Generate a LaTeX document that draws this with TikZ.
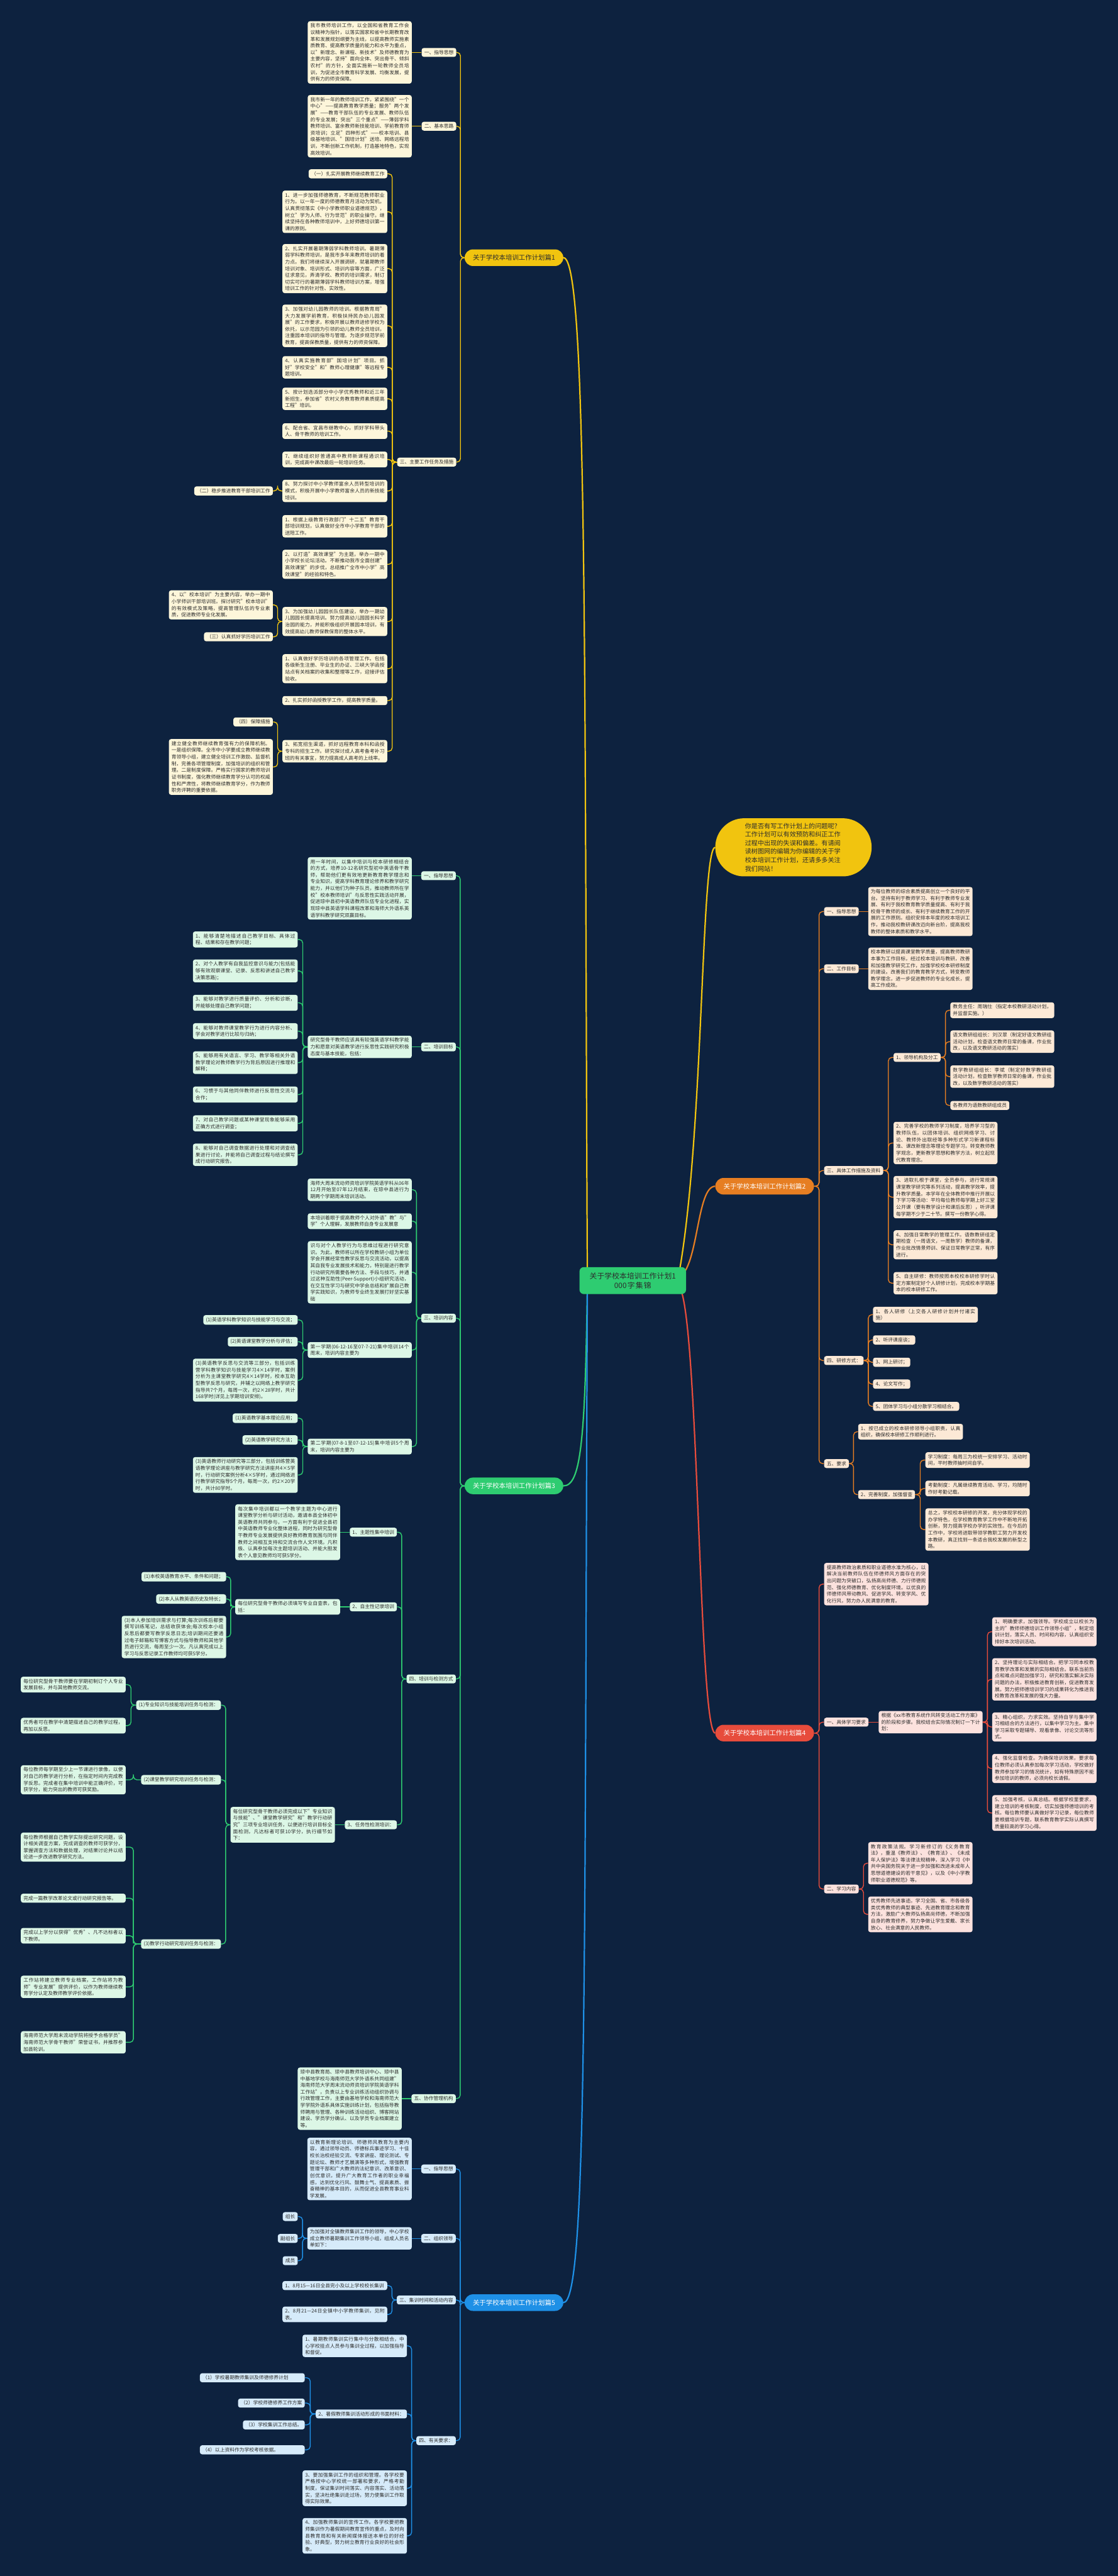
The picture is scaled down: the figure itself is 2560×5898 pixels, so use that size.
\documentclass[tikz,border=0pt]{standalone}
\usepackage{fontspec}
\setmainfont{Noto Sans CJK SC}
\XeTeXlinebreaklocale "zh"
\XeTeXlinebreakskip = 0pt plus 1pt
\usetikzlibrary{calc}
\definecolor{bgc}{RGB}{13,34,63}
\definecolor{yel}{RGB}{241,196,15}
\definecolor{org}{RGB}{230,126,34}
\definecolor{grn}{RGB}{46,204,113}
\definecolor{redc}{RGB}{231,76,60}
\definecolor{blu}{RGB}{30,144,230}
\definecolor{ycr}{RGB}{253,246,218}
\definecolor{ocr}{RGB}{252,233,214}
\definecolor{gcr}{RGB}{220,247,230}
\definecolor{rcr}{RGB}{252,226,222}
\definecolor{bcr}{RGB}{214,235,250}
\definecolor{txt}{RGB}{45,45,45}
\newcommand\bodyfs{\fontsize{11.2pt}{15.3pt}\selectfont}
\newcommand\mainfs{\fontsize{15pt}{18pt}\selectfont}
\newcommand\cenfs{\fontsize{17pt}{22pt}\selectfont}
\newcommand\introfs{\fontsize{14.6pt}{19.6pt}\selectfont}
\pgfdeclarelayer{bg}
\pgfsetlayers{bg,main}
\tikzset{
  every node/.style={font=\bodyfs, text=txt},
  bx/.style={rounded corners=5pt, inner xsep=6pt, inner ysep=5pt},
  Y/.style={bx, fill=ycr}, O/.style={bx, fill=ocr}, G/.style={bx, fill=gcr},
  R/.style={bx, fill=rcr}, B/.style={bx, fill=bcr},
  tw/.style={text width=#1pt, align=justify},
  mainnode/.style={rounded corners=19pt, minimum height=38pt, minimum width=226pt, font=\mainfs, inner xsep=10pt},
  con/.style={line width=2pt, rounded corners=8pt},
  ycon/.style={con, draw=yel}, ocon/.style={con, draw=org}, gcon/.style={con, draw=grn},
  rcon/.style={con, draw=redc}, bcon/.style={con, draw=blu},
  big/.style={line width=3.2pt}
}
\newcommand\LN[5]{\node[#1, anchor=east] (#2) at (#3,#4) {#5};}
\newcommand\RN[5]{\node[#1, anchor=west] (#2) at (#3,#4) {#5};}
\newcommand\CL[3]{\draw[#1] (#2.west) -| ($(#2.west)!0.5!(#3.east)$) |- (#3.east);}
\newcommand\CR[3]{\draw[#1] (#2.east) -| ($(#2.east)!0.5!(#3.west)$) |- (#3.west);}
\begin{document}
\begin{tikzpicture}[x=1pt,y=-1pt]
\path[use as bounding box] (0,0) rectangle (2560,5898);
% ---------- centre ----------
\node[fill=grn, rounded corners=10pt, text width=206pt, align=center, font=\cenfs, inner xsep=19pt, inner ysep=12pt] (C) at (1449,2932) {关于学校本培训工作计划1\\000字集锦};
\node[fill=yel, rounded corners=66pt, minimum width=358pt, minimum height=133pt, text width=222pt, align=left, font=\introfs] (I) at (1817,1940) {你是否有写工作计划上的问题呢？\\工作计划可以有效预防和纠正工作\\过程中出现的失误和偏差。有请阅\\读树图网的编辑为你编辑的关于学\\校本培训工作计划，还请多多关注\\我们网站！};
% ---------- main topics ----------
\node[mainnode, fill=yel] (P1) at (1177,590) {关于学校本培训工作计划篇1};
\node[mainnode, fill=org, text=white] (P2) at (1751,2716) {关于学校本培训工作计划篇2};
\node[mainnode, fill=grn, text=white] (P3) at (1177,3402) {关于学校本培训工作计划篇3};
\node[mainnode, fill=redc, text=white] (P4) at (1751,3968) {关于学校本培训工作计划篇4};
\node[mainnode, fill=blu, text=white] (P5) at (1177,5272) {关于学校本培训工作计划篇5};
% ---------- branch 1 (yellow) ----------
\LN{Y}{y1a}{1045}{120}{一、指导思想}
\LN{Y,tw=226}{y1at}{943}{120}{我市教师培训工作，以全国和省教育工作会议精神为指针，以落实国家和省中长期教育改革和发展规划纲要为主线，以提高教师实施素质教育、提高教学质量的能力和水平为重点，以"新理念、新课程、新技术"及师德教育为主要内容，坚持"面向全体、突出骨干、倾斜农村"的方针，全面实施新一轮教师全员培训，为促进全市教育科学发展、均衡发展，提供有力的师资保障。}
\LN{Y}{y1b}{1045}{289}{二、基本思路}
\LN{Y,tw=226}{y1bt}{943}{289}{我市新一年的教师培训工作，紧紧围绕"一个中心"——提高教育教学质量；服务"两个发展"——教育干部队伍的专业发展、教师队伍的专业发展；突出"三个重点"——薄弱学科教师培训、富余教师新技能培训、学前教育师资培训；立足"四种形式"——校本培训、县级基地培训、"国培计划"送培、网络远程培训，不断创新工作机制，打造基地特色，实现高效培训。}
\LN{Y}{y1c}{1045}{1058}{三、主要工作任务及措施}
\LN{Y}{c0}{887}{398}{（一）扎实开展教师继续教育工作}
\LN{Y,tw=228}{c1}{887}{485}{1、进一步加强师德教育，不断规范教师职业行为。以一年一度的师德教育月活动为契机，认真贯彻落实《中小学教师职业道德规范》，树立"学为人师、行为世范"的职业操守。继续坚持在各种教师培训中，上好师德培训第一课的原则。}
\LN{Y,tw=228}{c2}{887}{615}{2、扎实开展暑期薄弱学科教师培训。暑期薄弱学科教师培训，是我市多年来教师培训的着力点。我们将继续深入开展调研，就暑期教师培训对象、培训形式、培训内容等方面，广泛征求意见，弄清学校、教师的培训需求，制订切实可行的暑期薄弱学科教师培训方案，增强培训工作的针对性、实效性。}
\LN{Y,tw=228}{c3}{887}{746}{3、加强对幼儿园教师的培训。根据教育局"大力发展学前教育，积极扶持民办幼儿园发展"的工作要求，积极开展以教师进修学校为依托，以示范园为引领的幼儿教师全员培训，注重园本培训的指导与管理。为逐步规范学前教育，提高保教质量，提供有力的师资保障。}
\LN{Y,tw=228}{c4}{887}{841}{4、认真实施教育部"国培计划"项目。抓好"学校安全"和"教师心理健康"等远程专题培训。}
\LN{Y,tw=228}{c5}{887}{913}{5、按计划选派部分中小学优秀教师和近三年新招生，参加省"农村义务教育教师素质提高工程"培训。}
\LN{Y,tw=228}{c6}{887}{987}{6、配合省、宜昌市继教中心，抓好学科带头人、骨干教师的培训工作。}
\LN{Y,tw=228}{c7}{887}{1052}{7、继续组织好普通高中教师新课程通识培训，完成高中课改最后一轮培训任务。}
\LN{Y,tw=228}{c8}{887}{1124}{8、努力探讨中小学教师富余人员转型培训的模式，积极开展中小学教师富余人员的新技能培训。}
\LN{Y,tw=228}{c9}{887}{1205}{1、根据上级教育行政部门"十二五"教育干部培训规划，认真做好全市中小学教育干部的送陪工作。}
\LN{Y,tw=228}{c10}{887}{1292}{2、以打造"高效课堂"为主题，举办一期中小学校长论坛活动。不断推动我市全面创建"高效课堂"的步伐，总结推广全市中小学"高效课堂"的经验和特色。}
\LN{Y,tw=228}{c11}{887}{1423}{3、为加强幼儿园园长队伍建设，举办一期幼儿园园长提高培训。努力提高幼儿园园长科学治园的能力，并能积极组织开展园本培训，有效提高幼儿教师保教保育的整体水平。}
\LN{Y,tw=228}{c12}{887}{1531}{1、认真做好学历培训的各项管理工作。包括各级新生注册、毕业生的办证、三峡大学函授站点有关档案的收集和整理等工作，迎接评估验收。}
\LN{Y,tw=228}{c13}{887}{1604}{2、扎实抓好函授教学工作，提高教学质量。}
\LN{Y,tw=228}{c14}{887}{1720}{3、拓宽招生渠道，抓好远程教育本科和函授专科的招生工作。研究探讨成人高考备考补习班的有关事宜，努力提高成人高考的上线率。}
\LN{Y}{d1}{625}{1124}{（二）稳步推进教育干部培训工作}
\LN{Y,tw=226}{d2}{625}{1385}{4、以"校本培训"为主要内容，举办一期中小学师训干部培训班。探讨研究"校本培训"的有效模式及策略，提高管理队伍的专业素质，促进教师专业化发展。}
\LN{Y}{d3}{625}{1458}{（三）认真抓好学历培训工作}
\LN{Y}{d4}{625}{1653}{（四）保障措施}
\node[Y,tw=226,anchor=north east] (d5) at (625,1692) {建立健全教师继续教育强有力的保障机制。一是组织保障。全市中小学要成立教师继续教育领导小组，建立健全培训工作激励、监督机制，完善各项管理制度，加强培训的组织和管理。二是制度保障。严格实行国家的教师培训证书制度，强化教师继续教育学分认可的权威性和严肃性，将教师继续教育学分，作为教师职务评聘的重要依据。};
% ---------- branch 3 (green) ----------
\LN{G}{g1}{1044}{2005}{一、指导思想}
\LN{G,tw=226}{g1t}{943}{2034}{用一年时间，以集中培训与校本研修相结合的方式，培养10-12名研究型初中英语骨干教师，帮助他们更有效地更新教育教学理念和专业知识，提高学科教育理论修养和教学研究能力，并以他们为种子队员，推动教师所在学校"校本教师培训"与反思性实践活动开展，促进琼中县初中英语教师队伍专业化进程，实现琼中县英语学科课程改革和海师大外语系英语学科教学研究双赢目标。}
\LN{G}{g2}{1044}{2397}{二、培训目标}
\LN{G,tw=226}{g2t}{943}{2397}{研究型骨干教师应该具有较强英语学科教学能力和愿意对英语教学进行反思性实践研究积极态度与基本技能，包括：}
\LN{G,tw=228}{k1}{682}{2151}{1、能够清楚地描述自己教学目标、具体过程、结果和存在教学问题；}
\LN{G,tw=228}{k2}{682}{2223}{2、对个人教学有自我监控意识与能力(包括能够有效观察课堂、记录、反思和讲述自己教学决策思路)；}
\LN{G,tw=228}{k3}{682}{2296}{3、能够对教学进行质量评价、分析和诊断，并能够处理自己教学问题；}
\LN{G,tw=228}{k4}{682}{2361}{4、能够对教师课堂教学行为进行内容分析、学会对教学进行比较与归纳；}
\LN{G,tw=228}{k5}{682}{2433}{5、能够用有关语言、学习、教学等相关外语教学理论对教师教学行为背后原因进行推理和解释；}
\LN{G,tw=228}{k6}{682}{2506}{6、习惯于与其他同伴教师进行反思性交流与合作；}
\LN{G,tw=228}{k7}{682}{2572}{7、对自己教学问题或某种课堂现象能够采用正确方式进行调查；}
\LN{G,tw=228}{k8}{682}{2644}{8、能够对自己调查数据进行处理和对调查结果进行讨论，并能将自己调查过程与结论撰写成行动研究报告。}
\LN{G}{g3}{1044}{3018}{三、培训内容}
\LN{G,tw=226}{g3a}{943}{2724}{海师大周末流动师资培训学院英语学科从06年12月开始至07年12月结束，在琼中县进行为期两个学期周末培训活动。}
\LN{G,tw=226}{g3b}{943}{2796}{本培训着眼于提高教师个人对外语"教"与"学"个人理解，发展教师自身专业发展意}
\LN{G,tw=226}{g3c}{943}{2913}{识与对个人教学行为与思维过程进行研究意识。为此，教师将以所在学校教研小组为单位学会开展经常性教学反思与交流活动，以提高其自我专业发展技术和能力，特别是进行教学行动研究所需要各种方法、手段与技巧，并通过这种互助性(Peer-Support)小组研究活动，在交互性学习与研究中学会总结和扩展自己教学实践知识，为教师专业终生发展打好坚实基础}
\LN{G,tw=226}{g3d}{943}{3091}{第一学期(06-12-16至07-7-21)集中培训14个周末，培训内容主要为}
\LN{G,tw=226}{g3e}{943}{3312}{第二学期(07-8-1至07-12-15)集中培训5个周末，培训内容主要为}
\LN{G}{s1}{682}{3022}{(1)英语学科教学知识与技能学习与交流；}
\LN{G}{s2}{682}{3072}{(2)英语课堂教学分析与评估；}
\LN{G,tw=228}{s3}{682}{3160}{(3)英语教学反思与交流等三部分，包括训练营学科教学知识与技能学习4×14学时，案例分析为主课堂教学研究4×14学时，校本互助型教学反思与研究，并辅之以网络上教学研究指导共7个月，每周一次，约2×28学时，共计168学时(详见上学期培训安排)。}
\LN{G}{t1}{682}{3247}{(1)英语教学基本理论应用；}
\LN{G}{t2}{682}{3297}{(2)英语教学研究方法；}
\LN{G,tw=228}{t3}{682}{3377}{(3)英语教师行动研究等三部分，包括训练营英语教学理论讲座与教学研究方法讲座共4×5学时，行动研究案例分析4×5学时，通过网络进行教学研究指导5个月，每周一次，约2×20学时，共计80学时。}
\LN{G}{g4}{1044}{3844}{四、培训与检测方式}
\LN{G}{g4a}{909}{3508}{1、主题性集中培训}
\LN{G,tw=228}{g4at}{779}{3508}{每次集中培训都以一个教学主题为中心进行课堂教学分析与研讨活动，邀请本县全体初中英语教师共同参与，一方面有利于促进全县初中英语教师专业化整体进程，同时为研究型骨干教师专业发展提供良好教师教育氛围与同伴教师之间相互支持和交流合作人文环境。凡积极、认真参加每次主题培训活动、并能大胆发表个人意见教师均可获5学分。}
\LN{G}{g4b}{909}{3679}{2、自主性记录培训}
\LN{G,tw=228}{g4bt}{779}{3679}{每位研究型骨干教师必须填写专业自查表，包括：}
\LN{G}{u1}{518}{3610}{(1)本校英语教育水平、条件和问题；}
\LN{G}{u2}{518}{3661}{(2)本人从教英语历史及特长；}
\LN{G,tw=227}{u3}{518}{3748}{(3)本人参加培训需求与打算;每次训练后都要撰写训练笔记，总结收获体会;每次校本小组反思后都要写教学反思日志;培训期间还要通过电子邮箱和写博客方式与指导教师和其他学员进行交流，每周至少一次。凡认真完成以上学习与反思记录工作教师均可获5学分。}
\LN{G}{g4c}{909}{4178}{3、任务性检测培训：}
\LN{G,tw=227}{g4ct}{767}{4178}{每位研究型骨干教师必须完成以下"专业知识与技能"、"课堂教学研究"和"教学行动研究"三项专业培训任务，以便进行培训目标全面检测，凡达标者可获10学分，执行细节如下：}
\LN{G}{v1}{506}{3904}{(1)专业知识与技能培训任务与检测：}
\LN{G}{v2}{506}{4075}{(2)课堂教学研究培训任务与检测：}
\LN{G}{v3}{506}{4451}{(3)教学行动研究培训任务与检测：}
\LN{G,tw=228}{w1}{288}{3857}{每位研究型骨干教师要在学期初制订个人专业发展目标，并与其他教师交流。}
\LN{G,tw=228}{w2}{288}{3951}{优秀者可在教学中清楚描述自己的教学过程，再加以反思。}
\LN{G,tw=228}{w3}{288}{4075}{每位教师每学期至少上一节课进行录像，以便对自己的教学进行分析，在指定时间内完成教学反思。完成者在集中培训中能正确评价，可获学分，能力突出的教师可获奖励。}
\LN{G,tw=228}{w4}{288}{4229}{每位教师根据自己教学实际提出研究问题，设计相关调查方案，完成调查的教师可获学分，掌握调查方法和数据处理，对结果讨论并以结论进一步改进教学研究方法。}
\LN{G,tw=228}{w5}{288}{4346}{完成一篇教学改革论文或行动研究报告等。}
\LN{G,tw=228}{w6}{288}{4432}{完成以上学分以获得"优秀"、凡不达标者以下教师。}
\LN{G,tw=228}{w7}{288}{4549}{工作站将建立教师专业档案，工作站将为教师"专业发展"提供评价，以作为教师继续教育学分认定及教师教学评价依据。}
\LN{G,tw=228}{w8}{288}{4676}{海南师范大学周末流动学院将授予合格学员"海南师范大学骨干教师"荣誉证书，并推荐参加县轮训。}
\LN{G}{g5}{1044}{4805}{五、协作管理机构}
\LN{G,tw=226}{g5t}{920}{4805}{琼中县教育局、琼中县教师培训中心、琼中县中基地学校与海南师范大学外语系共同组建"海南师范大学周末流动师资培训学院英语学科工作站"，负责以上专业训练活动组织协调与行政管理工作，主要由基地学校和海南师范大学学院外语系具体实施训练计划，包括指导教师聘用与管理、各种训练活动组织、博客网站建设、学员学分确认、以及学员专业档案建立等。}
% ---------- branch 5 (blue) ----------
\LN{B}{b1}{1044}{4966}{一、指导思想}
\LN{B,tw=227}{b1t}{943}{4966}{以教育新理论培训、师德师风教育为主要内容，通过领导动员、师德标兵事迹学习、十佳校长治校经验交流、专家讲座、理论测试、专题论坛、教师才艺展演等多种形式，增强教育管理干部和广大教师的法纪意识、改革意识、创优意识，提升广大教育工作者的职业幸福感，达到优化行风、鼓舞士气、提高素质、振奋精神的基本目的，从而促进全县教育事业科学发展。}
\LN{B}{b2}{1044}{5125}{二、组织领导}
\LN{B,tw=227}{b2t}{943}{5125}{为加强对全镇教师集训工作的领导，中心学校成立教师暑期集训工作领导小组，组成人员名单如下：}
\LN{B}{z1}{682}{5075}{组长}
\LN{B}{z2}{682}{5125}{副组长}
\LN{B}{z3}{682}{5176}{成员}
\LN{B}{b3}{1044}{5266}{三、集训时间和活动内容}
\LN{B,tw=228}{b31}{887}{5233}{1、8月15—16日全县完小及以上学校校长集训}
\LN{B,tw=228}{b32}{887}{5299}{2、8月21—24日全镇中小学教师集训，见附表。}
\LN{B}{b4}{1044}{5588}{四、有关要求：}
\LN{B,tw=227}{b41}{932}{5371}{1、暑期教师集训实行集中与分散相结合，中心学校挂点人员参与集训全过程，以加强指导和督促。}
\LN{B}{b42}{932}{5527}{2、暑假教师集训活动形成的书面材料：}
\LN{B,tw=227}{b43}{932}{5697}{3、要加强集训工作的组织和管理。各学校要严格按中心学校统一部署和要求，严格考勤制度，保证集训时间落实、内容落实、活动落实，坚决杜绝集训走过场，努力使集训工作取得实际效果。}
\LN{B,tw=227}{b44}{932}{5806}{4、加强教师集训的宣传工作。各学校要把教师集训作为暑假期间教育宣传的重点，及时向县教育局和有关新闻媒体报送本单位的好经验、好典型，努力树立教育行业良好的社会形象。}
\LN{B,tw=228}{x1}{698}{5444}{（1）学校暑期教师集训及师德修养计划}
\LN{B}{x2}{698}{5502}{（2）学校师德修养工作方案}
\LN{B}{x3}{698}{5552}{（3）学校集训工作总结。}
\LN{B,tw=228}{x4}{698}{5609}{（4）以上资料作为学校考核依据。}
% ---------- branch 2 (orange) ----------
\RN{O}{o1}{1887}{2087}{一、指导思想}
\RN{O,tw=227}{o1t}{1988}{2087}{为每位教师的综合素质提高创立一个良好的平台。坚持有利于教师学习、有利于教师专业发展、有利于我校教育教学质量提高、有利于我校骨干教师的成长、有利于继续教育工作的开展的工作原则。组织安排本年度的校本培训工作，推动我校教研课改迈向新台阶，提高我校教师的整体素质和教学水平。}
\RN{O}{o2}{1887}{2218}{二、工作目标}
\RN{O,tw=227}{o2t}{1988}{2218}{校本教研以提高课堂教学质量，提高教师教研本事为工作目标，经过校本培训与教研，改善和加强教学研究工作，加强学校校本研修制度的建设。改善我们的教育教学方式，转变教师教学理念，进一步促进教师的专业化成长，提高工作成效。}
\RN{O}{o3}{1887}{2680}{三、具体工作措施及资料}
\RN{O}{o31}{2046}{2421}{1、领导机构及分工}
\RN{O,tw=226}{e1}{2176}{2313}{教务主任：周瑞仕（指定本校教研活动计划，并监督实施。）}
\RN{O,tw=226}{e2}{2176}{2385}{语文教研组组长：刘汉翠（制定好语文教研组活动计划，检查语文教师日常的备课，作业批改，以及语文教研活动的落实）}
\RN{O,tw=226}{e3}{2176}{2465}{数学教研组组长：李斌（制定好数学教研组活动计划，检查数学教师日常的备课，作业批改，以及数学教研活动的落实）}
\RN{O}{e4}{2176}{2531}{各教师为语数教研组成员}
\RN{O,tw=226}{o32}{2046}{2617}{2、完善学校的教师学习制度，培养学习型的教师队伍，以团体培训、组织网络学习、讨论、教师外出取经等多种形式学习新课程标准、课改新理念等理论专题学习。转变教师教学观念，更新教学思想和教学方法，树立起现代教育理念。}
\RN{O,tw=226}{o33}{2046}{2741}{3、进取扎根于课堂，全员参与，进行常规课课堂教学研究等系列活动，提高教学效率，提升教学质量。本学年在全体教师中推行开展以下学习等活动：平均每位教师每学期上好三堂公开课（要有教学设计和课后反思），听评课每学期不少于二十节。撰写一份教学心得。}
\RN{O,tw=226}{o34}{2046}{2850}{4、加强日常教学的管理工作。语数教研组定期检查（一周语文，一周数学）教师的备课，作业批改情景师训、保证日常教学正常，有序进行。}
\RN{O,tw=226}{o35}{2046}{2938}{5、自主研修：教师按照本校校本研修学时认定方案制定好个人研修计划，完成校本学期基本的校本研修工作。}
\RN{O}{o4}{1887}{3115}{四、研修方式：}
\RN{O,tw=228}{f1}{1999}{3010}{1、各人研修（上交各人研修计划并付诸实施）}
\RN{O}{f2}{1999}{3068}{2、听评课座谈；}
\RN{O}{f3}{1999}{3119}{3、网上研讨；}
\RN{O}{f4}{1999}{3169}{4、论文写作；}
\RN{O}{f5}{1999}{3220}{5、团体学习与小组分散学习相结合。}
\RN{O}{o5}{1887}{3351}{五、要求}
\RN{O,tw=228}{h1}{1965}{3278}{1、按已成立的校本研修领导小组职责，认真组织，确保校本研修工作顺利进行。}
\RN{O}{h2}{1965}{3422}{2、完善制度，加强督查}
\RN{O,tw=227}{i1}{2119}{3343}{学习制度：每周三为校统一安排学习、活动时间，平时教师抽时间自学。}
\RN{O,tw=227}{i2}{2119}{3408}{考勤制度：凡属继续教育活动、学习，均随时作好考勤记载。}
\RN{O,tw=227}{i3}{2119}{3502}{总之，学校校本研修的开发，充分体现学校的办学特色，在学校教育教学工作中不断地开拓创新，努力提高学校办学的实效性。在今后的工作中，学校将进取带领学教职工努力开发校本教研，真正找到一条适合我校发展的新型之路。}
% ---------- branch 4 (red) ----------
\RN{R,tw=227}{r0}{1887}{3627}{提高教师政治素质和职业道德水准为核心，以解决当前教师队伍在师德师风方面存在的突出问题为突破口，弘扬高尚师德、力行师德规范、强化师德教育、优化制度环境。以优良的师德师风带动教风、促进学风、转变学风、优化行风，努力办人民满意的教育。}
\RN{R}{r1}{1887}{3943}{一、具体学习要求}
\RN{R,tw=226}{r1t}{2012}{3943}{根据《xx市教育系统作风转变活动工作方案》的阶段和步骤。我校结合实际情况制订一下计划：}
\RN{R,tw=227}{j1}{2272}{3736}{1、明确要求，加强领导。学校成立以校长为主的"教师师德培训工作领导小组"，制定培训计划，落实人员、时间和内容，认真组织安排好本次培训活动。}
\RN{R,tw=227}{j2}{2272}{3845}{2、坚持理论与实际相结合。把学习同本校教育教学改革和发展的实际相结合。联系当前热点和难点问题加强学习，研究和落实解决实际问题的办法，积极推进教育创新，促进教育发展。努力把师德培训学习的成果转化为推进我校教育改革和发展的强大力量。}
\RN{R,tw=227}{j3}{2272}{3954}{3、精心组织，力求实效。坚持自学与集中学习相结合的方法进行，以集中学习为主。集中学习采取专题辅导、观看录像、讨论交流等形式。}
\RN{R,tw=227}{j4}{2272}{4049}{4、强化监督检查。为确保培训效果，要求每位教师必须认真参加每次学习活动，学校做好教师参加学习的情况统计，如有特殊原因不能参加培训的教师，必须向校长请假。}
\RN{R,tw=227}{j5}{2272}{4151}{5、加强考核，认真总结。根据学校里要求，建立培训的考核制度，切实加强师德培训的考核。每位教师要认真做好学习记录，每位教师要根据培训专题，联系教育教学实际认真撰写质量较高的学习心得。}
\RN{R}{r2}{1887}{4325}{二、学习内容}
\RN{R,tw=227}{m1}{1988}{4266}{教育政策法规。学习新修订的《义务教育法》，重温《教师法》、《教育法》、《未成年人保护法》等法律法规精神，深入学习《中共中央国务院关于进一步加强和改进未成年人思想道德建设的若干意见》，以及《中小学教师职业道德规范》等。}
\RN{R,tw=227}{m2}{1988}{4383}{优秀教师先进事迹。学习全国、省、市各级各类优秀教师的典型事迹、先进教育理念和教育方法，激励广大教师弘扬高尚师德，不断加强自身的教育修养，努力争做让学生爱戴、家长放心、社会满意的人民教师。}
% ================= connectors =================
\begin{pgfonlayer}{bg}
\fill[bgc] (0,0) rectangle (2560,5898);
% centre links
\draw[yel, big] (1345,2925) .. controls (1338,1500) and (1345,590) .. (P1.east);
\draw[grn, big] (1345,2945) .. controls (1340,3300) and (1330,3402) .. (P3.east);
\draw[blu, big] (1345,2950) .. controls (1338,4500) and (1345,5272) .. (P5.east);
\draw[org, big] (1555,2925) .. controls (1600,2900) and (1595,2716) .. (P2.west);
\draw[redc, big] (1555,2945) .. controls (1600,3000) and (1600,3968) .. (P4.west);
\draw[yel, big] (1555,2915) .. controls (1612,2600) and (1605,1940) .. (I.west);
% branch 1
\foreach \n in {y1a,y1b,y1c}{\CL{ycon}{P1}{\n}}
\draw[ycon] (y1a.west) -- (y1at.east);
\draw[ycon] (y1b.west) -- (y1bt.east);
\foreach \n in {c0,c1,c2,c3,c4,c5,c6,c7,c8,c9,c10,c11,c12,c13,c14}{\CL{ycon}{y1c}{\n}}
\CL{ycon}{c8}{d1}
\CL{ycon}{c11}{d2}
\CL{ycon}{c11}{d3}
\CL{ycon}{c14}{d4}
\CL{ycon}{c14}{d5}
% branch 3
\foreach \n in {g1,g2,g3,g4,g5}{\CL{gcon}{P3}{\n}}
\draw[gcon] (g1.west) -- (g1.west -| g1t.east);
\draw[gcon] (g2.west) -- (g2t.east);
\foreach \n in {k1,k2,k3,k4,k5,k6,k7,k8}{\CL{gcon}{g2t}{\n}}
\foreach \n in {g3a,g3b,g3c,g3d,g3e}{\CL{gcon}{g3}{\n}}
\foreach \n in {s1,s2,s3}{\CL{gcon}{g3d}{\n}}
\foreach \n in {t1,t2,t3}{\CL{gcon}{g3e}{\n}}
\foreach \n in {g4a,g4b,g4c}{\CL{gcon}{g4}{\n}}
\draw[gcon] (g4a.west) -- (g4at.east);
\draw[gcon] (g4b.west) -- (g4bt.east);
\draw[gcon] (g4c.west) -- (g4ct.east);
\foreach \n in {u1,u2,u3}{\CL{gcon}{g4bt}{\n}}
\foreach \n in {v1,v2,v3}{\CL{gcon}{g4ct}{\n}}
\foreach \n in {w1,w2}{\CL{gcon}{v1}{\n}}
\CL{gcon}{v2}{w3}
\foreach \n in {w4,w5,w6,w7,w8}{\CL{gcon}{v3}{\n}}
\draw[gcon] (g5.west) -- (g5t.east);
% branch 5
\foreach \n in {b1,b2,b3,b4}{\CL{bcon}{P5}{\n}}
\draw[bcon] (b1.west) -- (b1t.east);
\draw[bcon] (b2.west) -- (b2t.east);
\foreach \n in {z1,z2,z3}{\CL{bcon}{b2t}{\n}}
\foreach \n in {b31,b32}{\CL{bcon}{b3}{\n}}
\foreach \n in {b41,b42,b43,b44}{\CL{bcon}{b4}{\n}}
\foreach \n in {x1,x2,x3,x4}{\CL{bcon}{b42}{\n}}
% branch 2
\foreach \n in {o1,o2,o3,o4,o5}{\CR{ocon}{P2}{\n}}
\draw[ocon] (o1.east) -- (o1t.west);
\draw[ocon] (o2.east) -- (o2t.west);
\foreach \n in {o31,o32,o33,o34,o35}{\CR{ocon}{o3}{\n}}
\foreach \n in {e1,e2,e3,e4}{\CR{ocon}{o31}{\n}}
\foreach \n in {f1,f2,f3,f4,f5}{\CR{ocon}{o4}{\n}}
\foreach \n in {h1,h2}{\CR{ocon}{o5}{\n}}
\foreach \n in {i1,i2,i3}{\CR{ocon}{h2}{\n}}
% branch 4
\foreach \n in {r0,r1,r2}{\CR{rcon}{P4}{\n}}
\draw[rcon] (r1.east) -- (r1t.west);
\foreach \n in {j1,j2,j3,j4,j5}{\CR{rcon}{r1t}{\n}}
\foreach \n in {m1,m2}{\CR{rcon}{r2}{\n}}
\end{pgfonlayer}
\end{tikzpicture}
\end{document}
